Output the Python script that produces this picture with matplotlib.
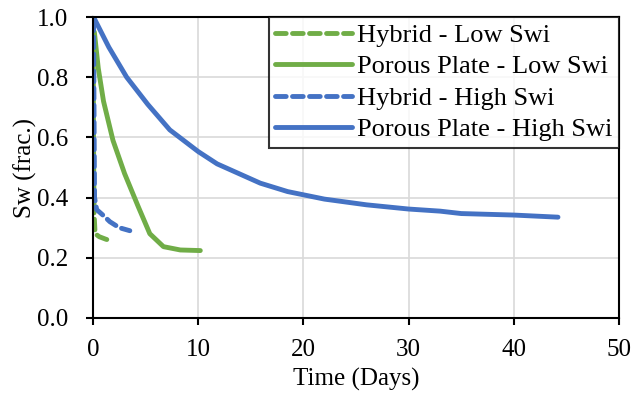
import matplotlib
matplotlib.use("Agg")
from matplotlib import pyplot as plt

# Sw vs time (days)
hybrid_low_t = [0.02, 0.05, 0.1, 0.2, 0.6, 1.2, 1.8]
hybrid_low_sw = [0.95, 0.6, 0.35, 0.28, 0.27, 0.262, 0.255]

plate_low_t = [0.13, 0.5, 1.0, 1.9, 3.0, 4.3, 5.4, 6.7, 8.3, 10.2]
plate_low_sw = [0.95, 0.83, 0.72, 0.59, 0.48, 0.37, 0.28, 0.237, 0.226, 0.224]

hybrid_high_t = [0.05, 0.08, 0.12, 0.15, 0.35, 1.0, 1.6, 2.5, 3.5]
hybrid_high_sw = [0.99, 0.8, 0.55, 0.40, 0.36, 0.34, 0.32, 0.30, 0.29]

plate_high_t = [0.05, 1.5, 3.2, 5.2, 7.3, 10.0, 11.8, 15.9, 18.5, 22.0, 26.0, 30.0, 33.0, 35.0, 40.0, 44.2]
plate_high_sw = [1.0, 0.9, 0.80, 0.71, 0.625, 0.553, 0.512, 0.448, 0.42, 0.395, 0.376, 0.362, 0.355, 0.347, 0.342, 0.335]

green = "#70ad47"
blue = "#4472c4"

plt.rcParams['font.family'] = ['Liberation Serif', 'DejaVu Serif']

fig = plt.figure(figsize=(6.35, 3.99), dpi=100)
ax = fig.add_axes([93 / 635, 1 - 318 / 399, (619 - 93) / 635, (318 - 17) / 399])

dash = (0, (2.2, 1.3))
kw = dict(lw=3.5, solid_capstyle="round", dash_capstyle="round")
ax.plot(hybrid_low_t, hybrid_low_sw, color=green, ls=dash, label="Hybrid - Low Swi", **kw)
ax.plot(plate_low_t, plate_low_sw, color=green, label="Porous Plate - Low Swi", **kw)
ax.plot(hybrid_high_t, hybrid_high_sw, color=blue, ls=dash, label="Hybrid - High Swi", **kw)
ax.plot(plate_high_t, plate_high_sw, color=blue, label="Porous Plate - High Swi", **kw)

ax.set_xlim(0, 50)
ax.set_ylim(0, 1.0)
ax.set_xticks(range(0, 51, 10))
ax.set_yticks([0.0, 0.2, 0.4, 0.6, 0.8, 1.0])
ax.set_yticklabels(["0.0", "0.2", "0.4", "0.6", "0.8", "1.0"])
ax.grid(True, color="#d9d9d9", lw=1.2)
ax.set_axisbelow(True)
for s in ax.spines.values():
    s.set_linewidth(1.5)
ax.tick_params(direction="out", length=5, width=1.5, labelsize=18)
ax.tick_params(axis="y", pad=13)
ax.tick_params(axis="x", pad=10)
ax.set_xlabel("Time (Days)", fontsize=18, labelpad=5)
ax.set_ylabel("Sw (frac.)", fontsize=18, labelpad=0)

leg = ax.legend(loc="upper right", fontsize=19, frameon=True, fancybox=False,
                borderaxespad=0.0, handlelength=2.9, handletextpad=0.2,
                labelspacing=0.3, borderpad=0.25)
leg.get_frame().set_edgecolor("black")
leg.get_frame().set_linewidth(1.5)

fig.savefig("out.png", dpi=100)
plt.close(fig)
